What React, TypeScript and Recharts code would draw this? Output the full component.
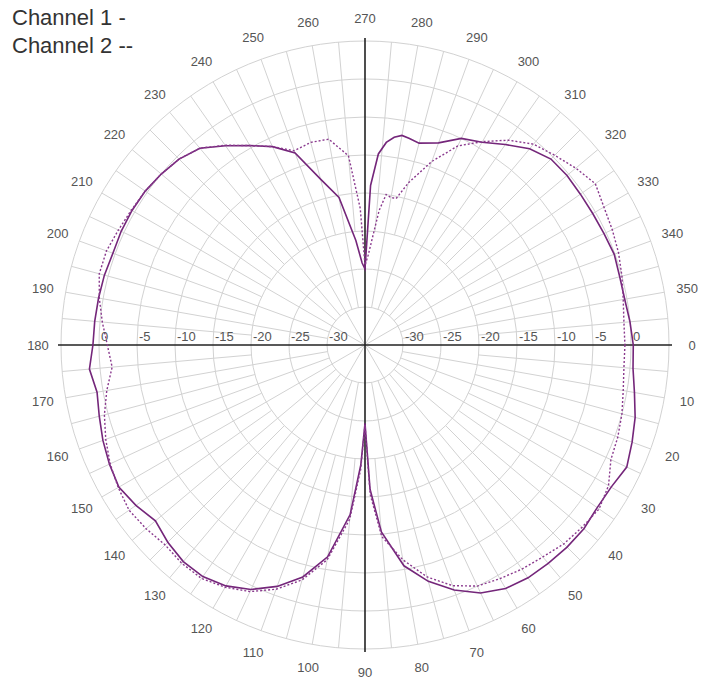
import React from 'react';
import { RadarChart, Radar, PolarGrid, PolarAngleAxis, PolarRadiusAxis, Customized } from 'recharts';

// measurement angles (deg, 0 = right, clockwise)
const angles = [
  0, 5, 10, 15, 20, 25, 30, 35, 40, 45, 50, 55, 60, 65, 70, 75, 80, 85,
  88, 90, 92,
  95, 100, 105, 110, 115, 120, 125, 130, 135, 140, 145, 150, 155, 160, 165, 170, 175, 180,
  185, 190, 195, 200, 205, 210, 215, 220, 225, 230, 235, 240, 245, 250, 255, 260, 265,
  268, 270, 272, 274, 276, 278, 280, 282,
  285, 290, 295, 300, 305, 310, 315, 320, 325, 330, 335, 340, 345, 350, 355,
];

// Channel 1 (solid), dB
const channel1 = [
  0.3, 0.4, 1.0, 1.8, 2.4, 3.0, 2.4, 2.3, 2.6, 2.6, 2.5, 2.4, 2.0, 1.0, -0.7, -2.8, -5.5, -10.3,
  -16, -24.7, -19.2,
  -12.6, -6.7, -3.4, -1.2, 0.5, 1.6, 2.2, 2.2, 1.7, 1.0, 1.8, 2.4, 2.1, 1.7, 1.2, 0.8, 1.4, 0.8,
  0.7, 0.6, 0.5, 0.3, 0.4, 0.4, 0.3, 0, -0.4, -1.2, -3.0, -4.7, -6.2, -8.1, -12.4, -15.3, -21.2,
  -24.2, -25, -14, -9.8, -8.2, -7.4, -7.0, -7.2,
  -7.5, -6.7, -5.0, -4.2, -2.8, -1.3, -0.4, -0.3, -0.4, -0.4, -0.3, -0.1, -0.3, -0.3, 0,
];

// Channel 2 (dashed), dB
const channel2 = [
  -0.8, -0.8, -0.5, 0, 0.4, 0.7, 2.0, 2.6, 2.3, 2.0, 1.4, 1.0, 0.5, 0, -1.3, -3.4, -6.3, -9.7,
  -15.3, -24.5, -18.6,
  -12, -6.3, -3, -0.8, 0.8, 1.8, 2.5, 2.5, 2.2, 2.6, 2.9, 2.5, 2.0, 1.3, 0.5, -0.5, -1.6, -1.1,
  -0.3, 0.5, 1.2, 1.2, 0.8, 0.5, 0.3, 0, -0.4, -1.2, -2.9, -4.7, -6.2, -7.8, -7.4, -7.5, -10,
  -17, -24.5, -23.2, -20.8, -17.2, -15, -15.3, -15.3,
  -12.9, -9.3, -6.1, -4.1, -2.1, -0.5, 0.3, 1.2, 2.0, 1.3, 0.9, 0.5, 0, -0.5, -0.8,
];

const angleTicks = Array.from({ length: 36 }, (_, i) => i * 10);
const radiusTicks = [-30, -25, -20, -15, -10, -5, 0, 5];

const data = angles.map((a, i) => ({ angle: a, ch1: channel1[i], ch2: channel2[i] }));

const W = 701;
const H = 681;
const CX = 365;
const CY = 345;
const R = 304;
const RAD = Math.PI / 180;
const rOf = (db: number) => ((db + 35) / 40) * R;

// spokes of the polar grid, denser further out
const SpokeGrid = () => {
  const lines: React.ReactNode[] = [];
  for (let a = 0; a < 360; a += 5) {
    if (a % 90 === 0) continue;
    const r0 = a % 30 === 0 ? 0 : a % 10 === 0 ? rOf(-30) : rOf(-20);
    const c = Math.cos(a * RAD);
    const s = Math.sin(a * RAD);
    lines.push(
      <line key={a} x1={CX + r0 * c} y1={CY + r0 * s} x2={CX + R * c} y2={CY + R * s}
        stroke="#d2d2d2" strokeWidth={1} />
    );
  }
  const ax = R + 3;
  return (
    <g>
      {lines}
      <line x1={CX - ax} y1={CY} x2={CX + ax} y2={CY} stroke="#222" strokeWidth={1.6} />
      <line x1={CX} y1={CY - ax} x2={CX} y2={CY + ax} stroke="#222" strokeWidth={1.6} />
    </g>
  );
};

const AngleTick = (props: any) => {
  const coord = props.payload.coordinate;
  const x = CX + 327 * Math.cos(-coord * RAD);
  const y = CY + 327 * Math.sin(-coord * RAD);
  return (
    <text x={x} y={y} textAnchor="middle" dominantBaseline="central"
      fontSize={13} fill="#555" fontFamily="Liberation Sans, Arial, sans-serif">
      {props.payload.value}
    </text>
  );
};

const RadiusTick = (props: any) => {
  const v = props.payload.value;
  if (v > 0) return <g />;
  const xr = props.x;
  const xl = 2 * CX - props.x;
  return (
    <g fontSize={13} fill="#555" fontFamily="Liberation Sans, Arial, sans-serif">
      <text x={xr + 2} y={CY - 4}>{v}</text>
      <text x={xl + 2} y={CY - 4}>{v}</text>
    </g>
  );
};

export default function App() {
  return (
    <div style={{ position: 'relative', width: W, height: H, background: '#fff' }}>
      <style>{`body{margin:0}`}</style>
      <RadarChart width={W} height={H} data={data} cx={CX} cy={CY} outerRadius={R}
        startAngle={0} endAngle={-360} margin={{ top: 0, right: 0, bottom: 0, left: 0 }}>
        <PolarGrid gridType="circle" radialLines={false} stroke="#d2d2d2" />
        <Customized component={<SpokeGrid />} />
        <PolarAngleAxis dataKey="angle" type="number" domain={[0, 360]} ticks={angleTicks}
          axisLine={false} tickLine={false} tick={<AngleTick />} />
        <PolarRadiusAxis type="number" domain={[-35, 5]} ticks={radiusTicks} angle={0}
          axisLine={false} tickLine={false} tick={<RadiusTick />} />
        <Radar name="Channel 1" dataKey="ch1" stroke="#74267a" strokeWidth={1.6}
          fill="none" fillOpacity={0} dot={false} isAnimationActive={false} />
        <Radar name="Channel 2" dataKey="ch2" stroke="#8a3a8e" strokeWidth={1.4}
          strokeDasharray="2 2" fill="none" fillOpacity={0} dot={false} isAnimationActive={false} />
      </RadarChart>
      <div style={{ position: 'absolute', left: 12, top: 4, fontFamily: 'Liberation Sans, Arial, sans-serif',
        fontSize: 22, color: '#333', lineHeight: '28px' }}>
        <div>Channel 1 -</div>
        <div>Channel 2 --</div>
      </div>
    </div>
  );
}
